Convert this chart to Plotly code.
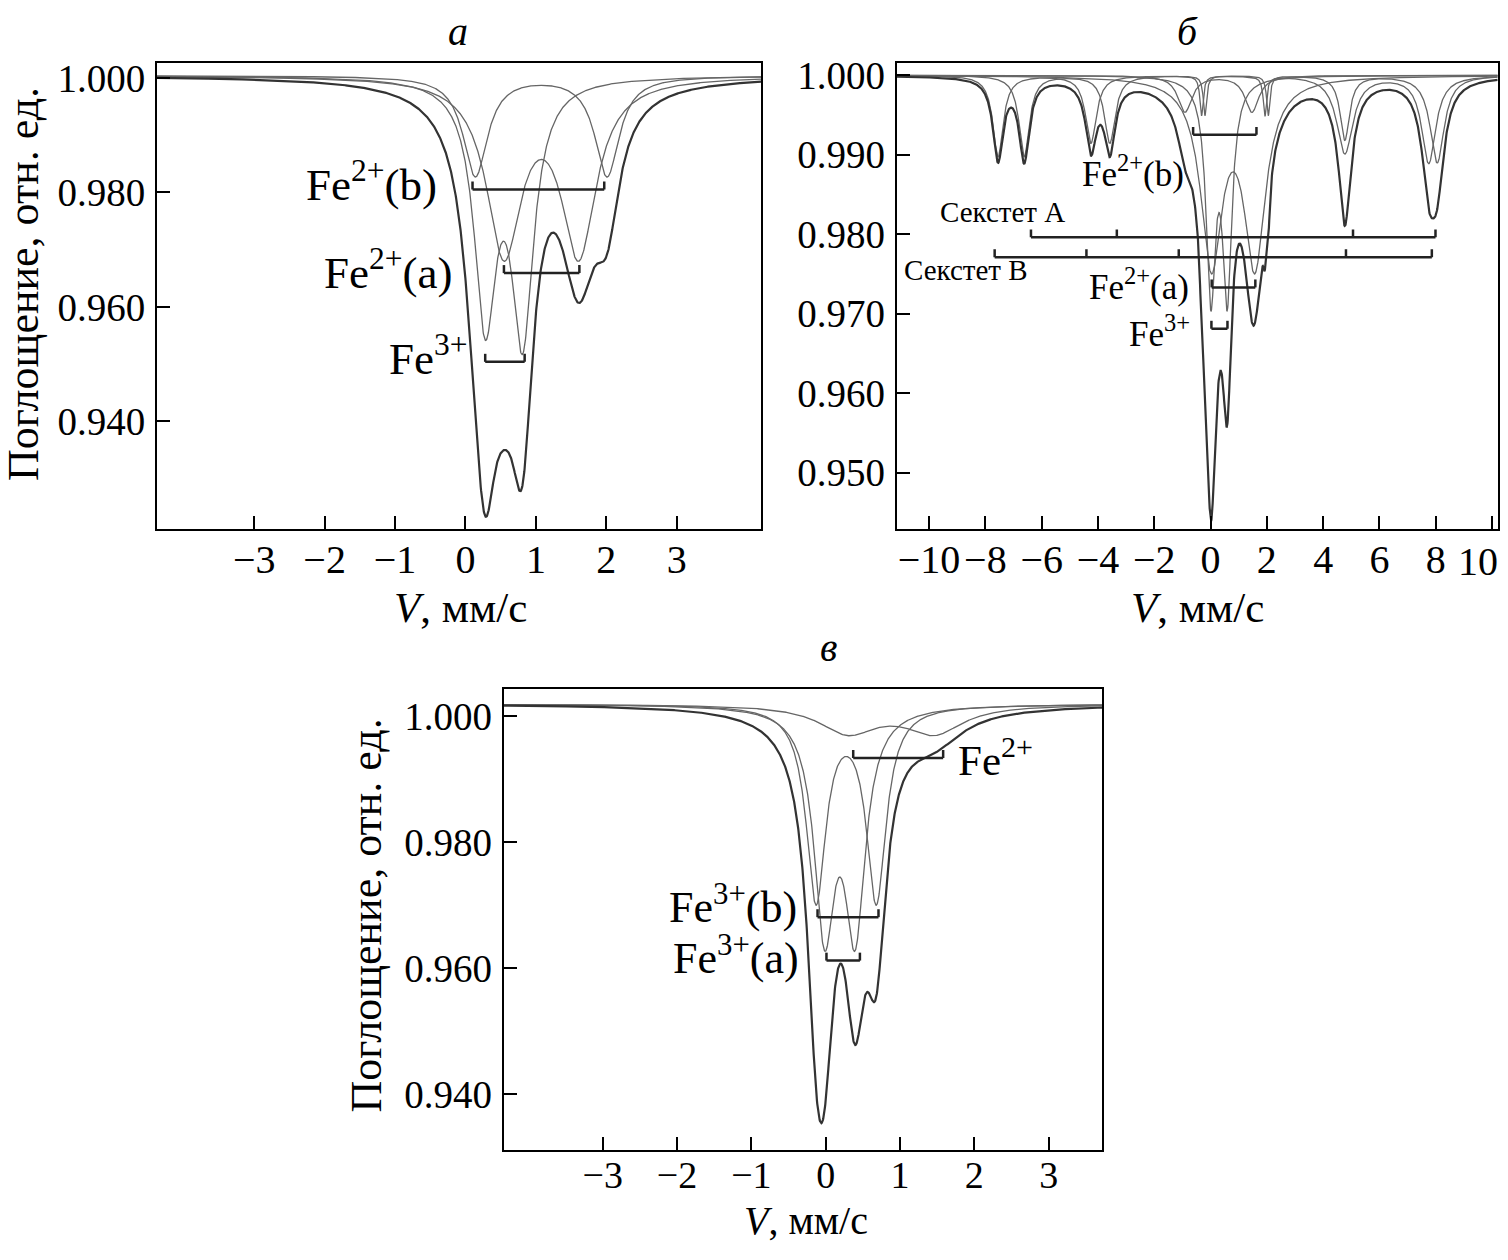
import numpy as np
import plotly.graph_objects as go

# Window is 1508x1260.  The html page puts the figure 8 px from the left and
# 16 px from the top; the figure is sized so the page fits the window.
# All positions below are given in window pixels.
WIN_W, WIN_H = 1508, 1260
OFF_X, OFF_Y = 8, 16
W, H = WIN_W - 2 * OFF_X, WIN_H - OFF_Y - 8

# ---------------- Panel а : doublet parameters (position, depth, HWHM) ----------------
a_baseline = 1.0004
a_fe3_pos = [0.28, 0.81]
a_fe3_depth = [0.0412, 0.0440]
a_fe3_hwhm = [0.19, 0.19]
a_fe2b_pos = [0.14, 2.01]
a_fe2b_depth = [0.0175, 0.0175]
a_fe2b_hwhm = [0.21, 0.21]
a_fe2a_pos = [0.546, 1.607]
a_fe2a_depth = [0.0302, 0.0302]
a_fe2a_hwhm = [0.30, 0.30]

# brackets (tick positions, level)
a_br_fe2b_x = [0.10, 1.97]
a_br_fe2b_y = 0.9805
a_br_fe2a_x = [0.546, 1.617]
a_br_fe2a_y = 0.9659
a_br_fe3_x = [0.28, 0.84]
a_br_fe3_y = 0.9504

a_xticks = [-3, -2, -1, 0, 1, 2, 3]
a_yticks = [0.940, 0.960, 0.980, 1.000]

# ---------------- Panel б ----------------
b_baseline = 1.000
b_sexA_pos = [-6.62, -3.58, -0.20, 2.05, 4.77, 8.05]
b_sexA_depth = [0.0102, 0.0085, 0.0050, 0.0050, 0.0081, 0.0110]
b_sexA_hwhm = [0.22, 0.23, 0.07, 0.07, 0.20, 0.30]
b_sexB_pos = [-7.55, -4.25, -0.32, 1.93, 4.77, 7.75]
b_sexB_depth = [0.0102, 0.0085, 0.0050, 0.0050, 0.0098, 0.0110]
b_sexB_hwhm = [0.22, 0.23, 0.07, 0.07, 0.35, 0.30]
b_fe2b_pos = [-0.91, 1.47]
b_fe2b_depth = [0.0046, 0.0046]
b_fe2b_hwhm = [0.30, 0.30]
b_fe2a_pos = [0.03, 1.57]
b_fe2a_depth = [0.0231, 0.0231]
b_fe2a_hwhm = [0.46, 0.46]
b_fe3_pos = [0.01, 0.59]
b_fe3_depth = [0.0268, 0.0268]
b_fe3_hwhm = [0.20, 0.20]

b_br_fe2b_x = [-0.62, 1.63]
b_br_fe2b_y = 0.9925
b_br_sexA_x = [-6.38, -3.33, 5.06, 7.99]
b_br_sexA_y = 0.9796
b_br_sexB_x = [-7.67, -4.41, -1.13, 4.81, 7.86]
b_br_sexB_y = 0.9771
b_br_fe2a_x = [0.04, 1.59]
b_br_fe2a_y = 0.9733
b_br_fe3_x = [0.03, 0.60]
b_br_fe3_y = 0.9681

b_xticks = [-10, -8, -6, -4, -2, 0, 2, 4, 6, 8, 10]
b_yticks = [0.950, 0.960, 0.970, 0.980, 0.990, 1.000]

# ---------------- Panel в ----------------
c_baseline = 1.00196
c_fe3a_pos = [-0.016, 0.395]
c_fe3a_depth = [0.0343, 0.0343]
c_fe3a_hwhm = [0.168, 0.168]
c_fe3b_pos = [-0.13, 0.68]
c_fe3b_depth = [0.0308, 0.0308]
c_fe3b_hwhm = [0.16, 0.16]
c_fe2_pos = [0.30, 1.46]
c_fe2_depth = [0.0044, 0.0044]
c_fe2_hwhm = [0.47, 0.47]

c_br_fe2_x = [0.37, 1.58]
c_br_fe2_y = 0.9934
c_br_fe3b_x = [-0.11, 0.71]
c_br_fe3b_y = 0.9681
c_br_fe3a_x = [0.01, 0.46]
c_br_fe3a_y = 0.9612

c_xticks = [-3, -2, -1, 0, 1, 2, 3]
c_yticks = [0.940, 0.960, 0.980, 1.000]

# ---------------- helpers ----------------
FONT = "Liberation Serif, Times New Roman, serif"
COMP_COLOR = "#666666"
TOT_COLOR = "#333333"


def absorb(v, pos, depth, hwhm):
    out = np.zeros_like(v)
    for p, d, g in zip(pos, depth, hwhm):
        out += d / (1.0 + ((v - p) / g) ** 2)
    return out


def fmt_num(t, dec=0):
    s = f"{abs(t):.{dec}f}"
    return ("\u2212" + s) if t < 0 else s


def dx(x):
    return (x - OFF_X) / W


def dy(y):
    return 1 - (y - OFF_Y) / H


fig = go.Figure()

panels = [
    dict(xa="x", ya="y", xdom=[dx(157.0), dx(761.3)], ydom=[dy(531.7), dy(62.7)],
         xr=[-4.38, 4.20], yr=[0.9212, 1.00255], base=a_baseline,
         comps=[(a_fe3_pos, a_fe3_depth, a_fe3_hwhm), (a_fe2b_pos, a_fe2b_depth, a_fe2b_hwhm),
                (a_fe2a_pos, a_fe2a_depth, a_fe2a_hwhm)],
         xt=a_xticks, yt=a_yticks, tickh=0.0014, xstand=-6, xfs=40, edge_label=False,
         br=[(a_br_fe2b_x, a_br_fe2b_y), (a_br_fe2a_x, a_br_fe2a_y), (a_br_fe3_x, a_br_fe3_y)]),
    dict(xa="x2", ya="y2", xdom=[dx(896.7), dx(1497.7)], ydom=[dy(531.7), dy(62.7)],
         xr=[-11.15, 10.2], yr=[0.9429, 1.0015], base=b_baseline,
         comps=[(b_sexA_pos, b_sexA_depth, b_sexA_hwhm), (b_sexB_pos, b_sexB_depth, b_sexB_hwhm),
                (b_fe2b_pos, b_fe2b_depth, b_fe2b_hwhm), (b_fe2a_pos, b_fe2a_depth, b_fe2a_hwhm),
                (b_fe3_pos, b_fe3_depth, b_fe3_hwhm)],
         xt=b_xticks, yt=b_yticks, tickh=0.001, xstand=-6, xfs=40, edge_label=True,
         br=[(b_br_fe2b_x, b_br_fe2b_y), (b_br_sexA_x, b_br_sexA_y), (b_br_sexB_x, b_br_sexB_y),
             (b_br_fe2a_x, b_br_fe2a_y), (b_br_fe3_x, b_br_fe3_y)]),
    dict(xa="x3", ya="y3", xdom=[dx(503.9), dx(1102.2)], ydom=[dy(1157.3), dy(693.3)],
         xr=[-4.33, 3.72], yr=[0.9311, 1.0043], base=c_baseline,
         comps=[(c_fe3a_pos, c_fe3a_depth, c_fe3a_hwhm), (c_fe3b_pos, c_fe3b_depth, c_fe3b_hwhm),
                (c_fe2_pos, c_fe2_depth, c_fe2_hwhm)],
         xt=c_xticks, yt=c_yticks, tickh=0.00126, xstand=-10, xfs=38, edge_label=False,
         br=[(c_br_fe2_x, c_br_fe2_y), (c_br_fe3b_x, c_br_fe3b_y), (c_br_fe3a_x, c_br_fe3a_y)]),
]

annotations = []


def ann(text, x, y, size, xanchor="center", yanchor="middle", angle=0, italic=False,
        height=None, valign="middle"):
    t = f"<i>{text}</i>" if italic else text
    d = dict(text=t, x=dx(x), y=dy(y), xref="paper", yref="paper",
             xanchor=xanchor, yanchor=yanchor, showarrow=False, textangle=angle,
             font=dict(family=FONT, size=size, color="black"))
    if height is not None:
        d["height"] = height
        d["valign"] = valign
    annotations.append(d)


shapes = []
layout_axes = {}
for i, P in enumerate(panels):
    v = np.linspace(P["xr"][0], P["xr"][1], 2000)
    total = np.zeros_like(v)
    for pos, dep, hw in P["comps"]:
        comp = absorb(v, pos, dep, hw)
        total += comp
        fig.add_trace(go.Scatter(x=v, y=P["base"] - comp, mode="lines",
                                 line=dict(color=COMP_COLOR, width=1.3),
                                 xaxis=P["xa"], yaxis=P["ya"], showlegend=False, hoverinfo="skip"))
    fig.add_trace(go.Scatter(x=v, y=P["base"] - total, mode="lines",
                             line=dict(color=TOT_COLOR, width=2.2),
                             xaxis=P["xa"], yaxis=P["ya"], showlegend=False, hoverinfo="skip"))
    for xs, yl in P["br"]:
        shapes.append(dict(type="line", xref=P["xa"], yref=P["ya"], x0=xs[0], x1=xs[-1],
                           y0=yl, y1=yl, line=dict(color="#222", width=2.5)))
        for xv in xs:
            shapes.append(dict(type="line", xref=P["xa"], yref=P["ya"], x0=xv, x1=xv,
                               y0=yl, y1=yl + P["tickh"], line=dict(color="#222", width=2.5)))
    ttext = [fmt_num(t) for t in P["xt"]]
    if P["edge_label"]:
        # the last label touches the page edge: keep it as text fully inside the page
        last = ttext[-1]
        ttext[-1] = ""
        ann(last, WIN_W - OFF_X, 564, 40, xanchor="right")
    suffix = "" if i == 0 else str(i + 1)
    layout_axes["xaxis" + suffix] = dict(
        domain=P["xdom"], range=P["xr"], anchor=P["ya"], showline=True, mirror=True,
        linecolor="black", linewidth=2, ticks="inside", ticklen=13, tickwidth=2,
        tickcolor="black", showgrid=False, zeroline=False, ticklabeloverflow="allow",
        tickvals=P["xt"], ticktext=ttext,
        tickfont=dict(family=FONT, size=P["xfs"], color="black"), ticklabelstandoff=P["xstand"])
    layout_axes["yaxis" + suffix] = dict(
        domain=P["ydom"], range=P["yr"], anchor=P["xa"], showline=True, mirror=True,
        linecolor="black", linewidth=2, ticks="inside", ticklen=13, tickwidth=2,
        tickcolor="black", showgrid=False, zeroline=False, ticklabeloverflow="allow",
        tickvals=P["yt"], ticktext=[f"{t:.3f}" for t in P["yt"]],
        tickfont=dict(family=FONT, size=39, color="black"), ticklabelstandoff=2)

# panel titles (box starts at the top edge of the figure; empty space above the glyph is clipped)
ann("а", 458, 34.3, 40, italic=True, height=36.6, valign="bottom")
ann("б", 1188, 34.3, 40, italic=True, height=36.6, valign="bottom")
ann("в", 828, 651, 40, italic=True)

# axis titles
ann("<i>V</i>, мм/с", 461, 611, 43)
ann("<i>V</i>, мм/с", 1197, 611, 43)
ann("<i>V</i>, мм/с", 806, 1228, 40)
ann("Поглощение, отн. ед.", 28, 285, 44, angle=-90, height=40, valign="bottom")
ann("Поглощение, отн. ед.", 366, 921, 44, angle=-90)

# panel а labels
ann("Fe<sup>2+</sup>(b)", 439, 182, 45, xanchor="right")
ann("Fe<sup>2+</sup>(a)", 454, 270, 45, xanchor="right")
ann("Fe<sup>3+</sup>", 470, 357, 45, xanchor="right")

# panel б labels
ann("Fe<sup>2+</sup>(b)", 1133, 172, 35)
ann("Секстет А", 1003, 212, 29)
ann("Секстет В", 966, 271, 29)
ann("Fe<sup>2+</sup>(a)", 1139, 285, 35)
ann("Fe<sup>3+</sup>", 1159, 333, 35)

# panel в labels
ann("Fe<sup>2+</sup>", 956, 761, 43, xanchor="left")
ann("Fe<sup>3+</sup>(b)", 799, 910, 44, xanchor="right")
ann("Fe<sup>3+</sup>(a)", 801, 961, 44, xanchor="right")

fig.update_layout(width=W, height=H, margin=dict(l=0, r=0, t=0, b=0),
                  paper_bgcolor="white", plot_bgcolor="white",
                  shapes=shapes, annotations=annotations, **layout_axes)

fig.write_html("out.html")
